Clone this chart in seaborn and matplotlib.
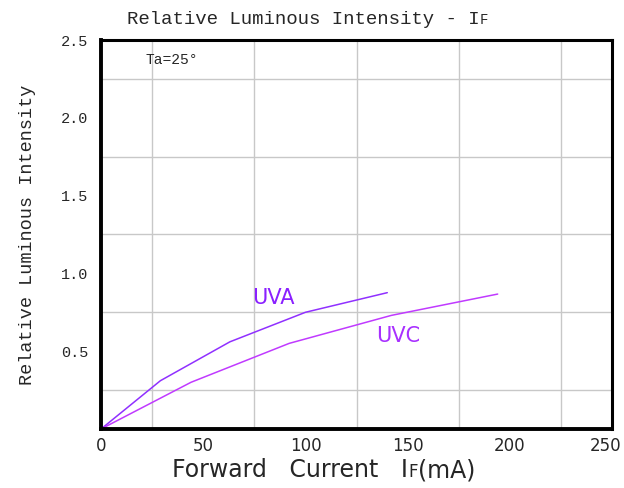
import numpy as np
import pandas as pd
import matplotlib
matplotlib.use("Agg")
import matplotlib.pyplot as plt
import matplotlib.transforms as mtransforms
import seaborn as sns

# Data
uva_current = [0, 29, 63, 100, 140]
uva_intensity = [0, 0.31, 0.56, 0.75, 0.876]
uvc_current = [0, 44, 92, 142, 194]
uvc_intensity = [0, 0.30, 0.55, 0.73, 0.867]

x_ticks = [0, 50, 100, 150, 200, 250]
y_ticks = [0.5, 1.0, 1.5, 2.0, 2.5]

sns.set_style("white")
plt.rcParams['font.family'] = ['Liberation Mono', 'DejaVu Sans']

df = pd.concat([
    pd.DataFrame({'current': uva_current, 'intensity': uva_intensity, 'led': 'UVA'}),
    pd.DataFrame({'current': uvc_current, 'intensity': uvc_intensity, 'led': 'UVC'}),
])
colors = {'UVA': '#9030FF', 'UVC': '#C03AFF'}

fig = plt.figure(figsize=(6.24, 4.88), dpi=100)
ax = fig.add_axes([0.162, 0.121, 0.819, 0.797])

sns.lineplot(data=df, x='current', y='intensity', hue='led', palette=colors,
             linewidth=1.1, legend=False, ax=ax, sort=False)

ax.set_xlim(0, 250)
ax.set_ylim(0, 2.5)

# Grid every 25 mA / 0.25
ax.set_xticks(np.arange(0, 251, 25), minor=True)
ax.set_yticks(np.arange(0, 2.51, 0.25), minor=True)
ax.grid(True, which='minor', color='#c8c8c8', linewidth=1.0)
ax.set_axisbelow(True)

ax.set_xticks(x_ticks)
ax.set_xticklabels([str(v) for v in x_ticks], family='DejaVu Sans', fontsize=12)
ax.set_yticks(y_ticks)
ax.set_yticklabels([f'{v:.1f}' for v in y_ticks], fontsize=11)
ax.tick_params(axis='both', which='both', length=0)
ax.tick_params(axis='x', pad=6)
ax.tick_params(axis='y', pad=9)
# last x label sits a bit inside the frame
last = ax.get_xticklabels()[-1]
last.set_transform(last.get_transform() + mtransforms.ScaledTranslation(-7 / 100, 0, fig.dpi_scale_trans))

for s in ax.spines.values():
    s.set_color('black')
    s.set_linewidth(2.2)
ax.spines['left'].set_linewidth(2.8)
ax.spines['bottom'].set_linewidth(2.8)

ax.set_xlabel('')
ax.set_ylabel('Relative Luminous Intensity', fontsize=13.3, labelpad=18)

renderer = fig.canvas.get_renderer()


def text_run(x, y, parts, **kw):
    # place text pieces one after another (for the small "F")
    for s, size, dy in parts:
        t = fig.text(x, y + dy, s, fontsize=size, ha='left', va='baseline', **kw)
        bb = t.get_window_extent(renderer)
        x = bb.x1 / fig.bbox.width


# Title with small "F"
text_run(0.2035, 0.951, [('Relative Luminous Intensity - I', 13.7, 0), ('F', 10, 0)])

# X axis label
text_run(0.276, 0.022, [('Forward   Current   I', 17, 0), ('F', 12, 0), ('(mA)', 17, 0)],
         family='DejaVu Sans')

ax.text(0.086, 0.949, 'Ta=25°', transform=ax.transAxes, fontsize=10.5,
        ha='left', va='center')
ax.text(74, 0.84, 'UVA', color='#8a20ff', family='DejaVu Sans', fontsize=15,
        ha='left', va='center')
ax.text(134.5, 0.60, 'UVC', color='#a830ff', family='DejaVu Sans', fontsize=15,
        ha='left', va='center')

fig.savefig('out.png', dpi=100)
